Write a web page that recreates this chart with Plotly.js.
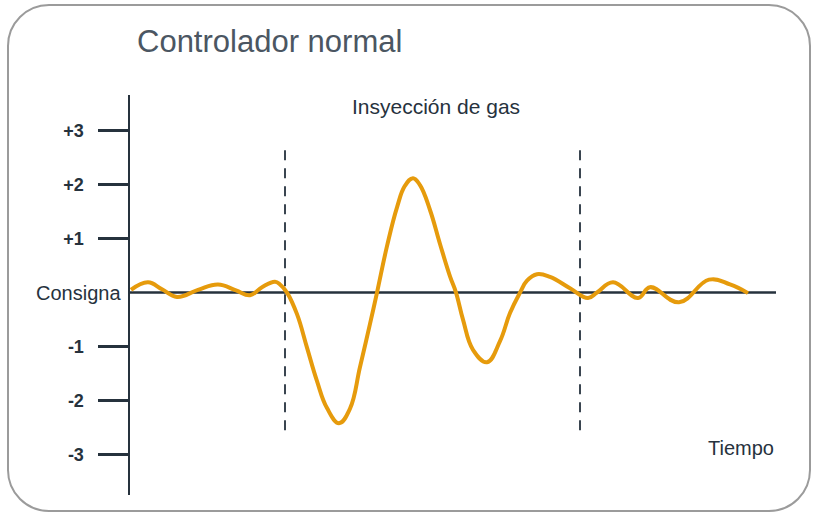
<!DOCTYPE html>
<html>
<head>
<meta charset="utf-8">
<script src="https://cdn.plot.ly/plotly-3.0.1.min.js"></script>
<style>
html,body{margin:0;padding:0;background:#fff;}
#wrap{position:relative;width:822px;height:517px;}
#chart{position:absolute;left:0;top:0;width:822px;height:517px;}
#frame{position:absolute;left:7px;top:4px;width:800px;height:504px;border:2px solid #9b9b9b;border-radius:42px;pointer-events:none;z-index:5;}
</style>
</head>
<body>
<div id="wrap"><div id="chart"></div><div id="frame"></div></div>
<script>
// time (arbitrary units) and deviation from setpoint
const time = [1, 18, 32, 47, 68, 88, 106, 120, 132, 145, 150, 157, 167, 177, 187, 197, 209, 220, 230, 240, 247, 257, 267, 275, 283, 290, 300, 310, 320, 326, 333, 343, 357, 370, 380, 390, 397, 407, 420, 440, 458, 467, 483, 508, 520, 549, 579, 600, 618];
const deviation = [0.05, 0.19, 0.06, -0.08, 0.05, 0.15, 0.04, -0.05, 0.1, 0.2, 0.15, 0, -0.4, -1.02, -1.64, -2.14, -2.42, -2.15, -1.38, -0.58, 0, 0.86, 1.58, 1.98, 2.12, 1.99, 1.53, 0.9, 0.3, 0, -0.5, -1.06, -1.29, -0.9, -0.38, 0, 0.22, 0.34, 0.29, 0.08, -0.1, 0.0, 0.19, -0.1, 0.1, -0.18, 0.24, 0.15, -0.01];
const tickValues = [3, 2, 1, -1, -2, -3];
const tickLabels = ["+3", "+2", "+1", "-1", "-2", "-3"];
const injectionStart = 155;
const injectionEnd = 450;

const dark = '#26323d';
const data = [{
  x: time, y: deviation, type: 'scatter', mode: 'lines',
  line: {color: '#e69b0c', width: 4, shape: 'spline', smoothing: 1.2},
  hoverinfo: 'skip'
}];
const layout = {
  width: 822, height: 517,
  margin: {l: 130, r: 46, t: 95, b: 22},
  paper_bgcolor: '#fff', plot_bgcolor: 'rgba(0,0,0,0)',
  showlegend: false,
  font: {family: 'Liberation Sans, Arial, sans-serif', color: dark},
  title: {text: 'Controlador normal', x: 137/822, xanchor: 'left', xref: 'container', y: 1 - 41/517, yanchor: 'middle', yref: 'container',
          font: {size: 31, color: '#4b5662', family: 'Liberation Sans, Arial, sans-serif'}},
  xaxis: {range: [0, 646], visible: false, fixedrange: true},
  yaxis: {range: [-3.75, 3.66], showgrid: false, zeroline: false, showline: true, linecolor: dark, linewidth: 2.5,
          ticks: 'outside', ticklen: 30, tickwidth: 2.5, tickcolor: dark, tickvals: tickValues, ticktext: tickLabels,
          ticklabelstandoff: 10, tickfont: {size: 18, color: dark, weight: 'bold'}, fixedrange: true},
  shapes: [
    {type: 'line', xref: 'x', yref: 'y', x0: 0, x1: 646, y0: 0, y1: 0, line: {color: dark, width: 2.5}, layer: 'below'},
    {type: 'line', xref: 'x', yref: 'y', x0: injectionStart, x1: injectionStart, y0: -2.55, y1: 2.73, line: {color: '#3a4550', width: 2, dash: '10px,8px'}, layer: 'below'},
    {type: 'line', xref: 'x', yref: 'y', x0: injectionEnd, x1: injectionEnd, y0: -2.55, y1: 2.73, line: {color: '#3a4550', width: 2, dash: '10px,8px'}, layer: 'below'}
  ],
  annotations: [
    {text: 'Insyección de gas', x: 306, y: 3.45, xref: 'x', yref: 'y', showarrow: false, font: {size: 21, color: dark}},
    {text: 'Tiempo', x: 646, y: -2.88, xref: 'x', yref: 'y', xanchor: 'right', showarrow: false, font: {size: 20, color: dark}},
    {text: 'Consigna', x: 0, y: 0, xref: 'x', yref: 'y', xanchor: 'right', xshift: -7, showarrow: false, font: {size: 20, color: dark}}
  ]
};
Plotly.newPlot('chart', data, layout, {displayModeBar: false, staticPlot: true});
</script>
</body>
</html>
